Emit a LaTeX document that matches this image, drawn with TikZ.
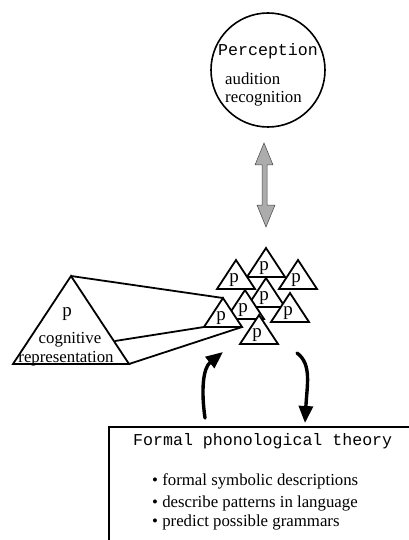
\documentclass[tikz,border=0pt]{standalone}
\usepackage{fontspec}
\setmainfont{Liberation Serif}
\setmonofont{Liberation Mono}
\usetikzlibrary{arrows.meta}
\begin{document}
\begin{tikzpicture}[x=1pt,y=-1pt,
  tri/.style={draw, fill=white, line width=1.8pt, line join=miter},
  ptxt/.style={font=\fontsize{19}{20}\selectfont, anchor=base, inner sep=0pt},
  txt/.style={font=\fontsize{16.8}{20}\selectfont, anchor=base west, inner sep=0pt},
  mono/.style={font=\fontsize{16.6}{20}\selectfont\ttfamily, anchor=base west, inner sep=0pt},
  curvearrow/.style={line width=3.4pt, line cap=round, -{Triangle[length=17pt,width=14pt]}},
  link/.style={line width=1.8pt}]
\useasboundingbox (0,0) rectangle (409,540);

% Perception circle
\node[circle, draw, line width=1.6pt, minimum size=114pt, inner sep=0pt] (perc) at (268,70) {};
\node[mono] (ptitle) at (218,56) {Perception};
\node[txt] (aud) at (225,85) {audition};
\node[txt] (rec) at (225,103) {recognition};

% double arrow (hatched grey)
\fill[gray!65, draw=gray!55!black, line width=0.5pt]
  (264,143) -- (273,165) -- (267,165) -- (267,205) -- (275,205) -- (266,227)
  -- (257,205) -- (262,205) -- (262,165) -- (255,165) -- cycle;

% big triangle
\coordinate (BA) at (71,276);
\coordinate (BL) at (13,364);
\coordinate (BR) at (129,364);
\coordinate (BS) at (115,341);
\draw[tri] (BA) -- (BR) -- (BL) -- cycle;
\node[ptxt] (bp) at (67,316) {p};
\node[txt, anchor=base] (cog) at (70,343) {cognitive};
\node[txt, anchor=base] (repr) at (66,362) {representation};

% small triangles
\foreach \i/\x/\y in {1/266/248, 2/236/260, 3/298/260, 4/266/278, 5/245/290, 6/290/293, 7/223/298, 8/259/315} {
  \coordinate (t\i a) at (\x,\y);
  \coordinate (t\i l) at (\x-19,\y+29);
  \coordinate (t\i r) at (\x+19,\y+29);
  \draw[tri] (t\i a) -- (t\i r) -- (t\i l) -- cycle;
  \node[ptxt] (p\i) at (\x-2,\y+22) {p};
}

% links from big triangle to small triangle 7
\draw[link] (BA) -- (t7a);
\draw[link] (BS) -- (t7l);
\draw[link] (BR) -- (t7r);

% curved arrows
\coordinate (la0) at (205,418);
\coordinate (la1) at (223,352);
\draw[curvearrow] (la0) .. controls (201,390) and (203,368) .. (la1);
\coordinate (ra0) at (297,353);
\coordinate (ra1) at (305,423);
\draw[curvearrow] (ra0) .. controls (312,364) and (307,385) .. (ra1);

% theory box (partly outside the picture)
\coordinate (bx0) at (409,427);
\coordinate (bx1) at (109,427);
\coordinate (bx2) at (109,540);
\draw[line width=1.8pt] (bx0) -- (bx1) -- (bx2);
\node[mono] (ftitle) at (133,445) {Formal phonological theory};
\node[txt] (b1) at (152,485) {\textbullet\ formal symbolic descriptions};
\node[txt] (b2) at (152,507) {\textbullet\ describe patterns in language};
\node[txt] (b3) at (152,526) {\textbullet\ predict possible grammars};
\end{tikzpicture}
\end{document}
